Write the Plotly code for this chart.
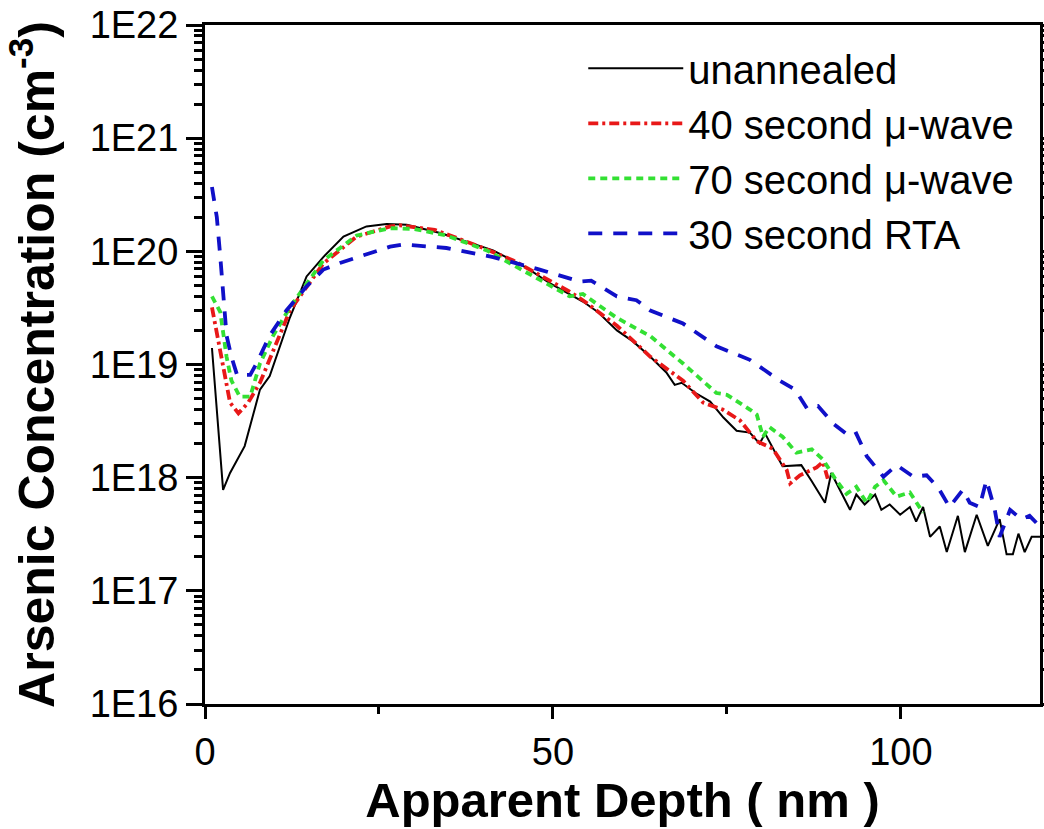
import plotly.graph_objects as go

# ---------------- data ----------------
depth_unannealed = [1, 2.6, 3.6, 5.7, 7.9, 9.3, 12.2, 14.6, 17, 19.9, 23.2, 26.1, 29, 33.8, 41.4,
                    46.3, 49.6, 52, 54.3, 56.5, 59.2, 61.5, 64, 66.3, 67.5, 68.5, 70.5, 72.6, 74.5,
                    76.4, 78.3, 79.7, 80.5, 83, 85.7, 87.2, 89.1, 90, 92.7, 93.6, 94.8, 96.3, 97.2,
                    98.4, 99.9, 101.3, 102.2, 103.2, 104.2, 105.6, 106.6, 108.2, 109.2, 110.9,
                    112.5, 114.2, 115.2, 116.1, 116.9, 117.8, 118.8, 120]
conc_unannealed = [1.4e19, 7.8e17, 1.1e18, 1.9e18, 6.0e18, 7.9e18, 2.6e19, 6.0e19, 8.9e19, 1.35e20,
                   1.66e20, 1.74e20, 1.72e20, 1.45e20, 1.02e20, 7.1e19, 5.2e19, 4.3e19, 3.6e19,
                   2.9e19, 2.0e19, 1.6e19, 1.17e19, 8.5e18, 6.6e18, 6.9e18, 5.6e18, 4.7e18, 3.4e18,
                   2.6e18, 2.5e18, 2.0e18, 2.45e18, 1.26e18, 1.29e18, 9.3e17, 6.0e17, 1.1e18,
                   5.2e17, 7.1e17, 5.8e17, 7.1e17, 5.2e17, 5.8e17, 4.7e17, 5.5e17, 4.1e17, 5.5e17,
                   3.0e17, 3.7e17, 2.2e17, 4.6e17, 2.2e17, 4.7e17, 2.5e17, 4.3e17, 2.1e17, 2.1e17,
                   3.2e17, 2.2e17, 3.0e17, 3.0e17]

depth_40s = [1, 2.2, 3.6, 4.8, 6.2, 7.9, 9.8, 12.2, 17, 21.8, 26.6, 28, 33, 39.5, 44.3, 52.4,
             54.3, 59.2, 64, 68.7, 71.6, 74.4, 76.9, 79.3, 81.6, 83.6, 84.1, 85.5, 87.9, 88.8, 89.5]
conc_40s = [3.2e19, 1.35e19, 4.6e18, 3.7e18, 4.6e18, 6.9e18, 1.35e19, 3.0e19, 7.8e19, 1.35e20,
            1.66e20, 1.7e20, 1.55e20, 1.1e20, 8.3e19, 4.4e19, 3.7e19, 2.2e19, 1.17e19, 7.2e18,
            4.6e18, 4.0e18, 3.2e18, 2.1e18, 1.8e18, 1.17e18, 8.9e17, 1.05e18, 1.23e18, 1.38e18,
            9.8e17]

depth_70s = [1, 2.2, 3.1, 3.8, 5, 6.5, 7.9, 9.8, 12.2, 17, 21.8, 26.6, 30, 34.7, 40.5, 47.1, 52.4,
             54.3, 59.1, 64, 68.7, 73.5, 75, 78.3, 79.3, 80.2, 81.1, 83, 85, 87.2, 88.8, 90.7,
             92.2, 93.6, 95.1, 96.3, 97.5, 99.4, 101.3, 103.2]
conc_70s = [4.0e19, 2.9e19, 1.17e19, 7.2e18, 5.2e18, 5.2e18, 1.02e19, 1.8e19, 3.2e19, 8.3e19,
            1.38e20, 1.6e20, 1.58e20, 1.38e20, 1.02e20, 6.0e19, 4.0e19, 4.2e19, 2.6e19, 1.78e19,
            1.02e19, 5.6e18, 5.4e18, 4.0e18, 3.6e18, 2.3e18, 2.8e18, 2.3e18, 1.66e18, 1.78e18,
            1.45e18, 9.5e17, 7.2e17, 8.3e17, 6.0e17, 8.3e17, 9.5e17, 6.8e17, 7.4e17, 4.9e17]

depth_rta = [1, 1.7, 2.2, 3.1, 3.8, 4.6, 6.5, 7.4, 9.3, 11.7, 14.6, 17, 19.4, 23.2, 26.6, 28.5,
             34.7, 41.4, 48.1, 53.9, 55.5, 59.2, 62, 64, 68.7, 73.5, 78.3, 82.6, 84.8, 86.5, 88.1,
             90.3, 92.7, 93.6, 95.1, 97.5, 99.4, 101.8, 103.7, 105.4, 107, 108.9, 109.9, 111.3,
             112.3, 113.5, 114.2, 115.7, 117.3, 118.5, 120]
conc_rta = [3.7e20, 2.0e20, 8.9e19, 1.8e19, 1.17e19, 8.1e18, 8.1e18, 1.02e19, 1.8e19, 3.0e19,
            4.9e19, 6.9e19, 7.9e19, 9.5e19, 1.1e20, 1.15e20, 1.07e20, 8.9e19, 6.9e19, 5.4e19,
            5.5e19, 4.0e19, 3.7e19, 3.0e19, 2.3e19, 1.45e19, 1.1e19, 7.2e18, 6.0e18, 4.1e18,
            4.3e18, 3.0e18, 2.3e18, 2.45e18, 1.55e18, 1.02e18, 1.29e18, 1.02e18, 1.05e18,
            8.1e17, 5.5e17, 7.8e17, 6.0e17, 5.5e17, 9.5e17, 5.2e17, 3.0e17, 5.2e17, 4.3e17,
            4.6e17, 3.7e17]

series_names = ["unannealed", "40 second \u03bc-wave", "70 second \u03bc-wave", "30 second RTA"]
y_tick_vals = [1e16, 1e17, 1e18, 1e19, 1e20, 1e21, 1e22]
y_tick_text = ["1E16", "1E17", "1E18", "1E19", "1E20", "1E21", "1E22"]
x_tick_vals = [0, 50, 100]
x_minor_vals = [25, 75]

FONT = "Liberation Sans, Arial, sans-serif"

fig = go.Figure()
fig.add_trace(go.Scatter(x=depth_unannealed, y=conc_unannealed, mode="lines", name=series_names[0],
                         line=dict(color="#000000", width=2)))
fig.add_trace(go.Scatter(x=depth_40s, y=conc_40s, mode="lines", name=series_names[1],
                         line=dict(color="#e81818", width=3.8, dash="10px,4px,3px,4px")))
fig.add_trace(go.Scatter(x=depth_70s, y=conc_70s, mode="lines", name=series_names[2],
                         line=dict(color="#33e033", width=3.8, dash="7px,5px")))
fig.add_trace(go.Scatter(x=depth_rta, y=conc_rta, mode="lines", name=series_names[3],
                         line=dict(color="#1010c8", width=3.8, dash="14px,11px")))

axis_common = dict(showline=True, linecolor="black", linewidth=3, showgrid=False, zeroline=False,
                   tickcolor="black", tickwidth=3)

fig.update_layout(
    width=1044, height=829,
    margin=dict(l=205, r=4, t=25, b=125, autoexpand=False),
    paper_bgcolor="white", plot_bgcolor="white",
    font=dict(family=FONT, color="black"),
    showlegend=True,
    legend=dict(x=0.453, y=0.984, xanchor="left", yanchor="top", bgcolor="rgba(0,0,0,0)",
                font=dict(size=40, family=FONT), itemwidth=95, tracegroupgap=0),
    xaxis=dict(range=[0, 120], tickvals=x_tick_vals, ticks="outside", ticklen=12,
               tickfont=dict(size=38), mirror=True,
               minor=dict(tickvals=x_minor_vals, ticks="outside", ticklen=7,
                          tickwidth=3, tickcolor="black"),
               title=dict(text="<b>Apparent Depth ( nm )</b>", font=dict(size=49), standoff=2),
               **axis_common),
    yaxis=dict(type="log", range=[16, 22], tickvals=y_tick_vals, ticktext=y_tick_text,
               ticks="outside", ticklen=16, tickfont=dict(size=38), mirror="allticks",
               ticklabeloverflow="allow",
               minor=dict(ticks="outside", ticklen=8, dtick="D1", tickwidth=2.5, tickcolor="black"),
               title=dict(text="<b>Arsenic Concentration (cm<sup>-3</sup>)</b>", font=dict(size=50),
                          standoff=20),
               **axis_common),
)

# remove the default 8px page margin so the figure fills the window exactly
fig.write_html("out.html", config={"displayModeBar": False},
               post_script="document.body.style.margin='0px';")
